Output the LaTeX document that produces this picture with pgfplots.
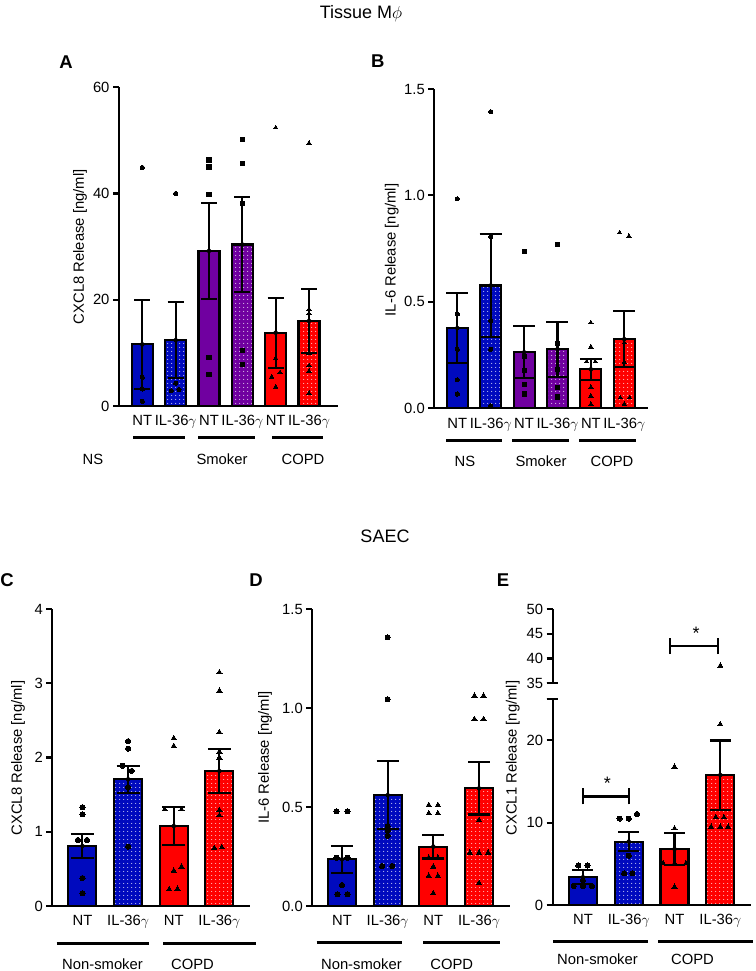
\documentclass[border=0pt]{standalone}
\usepackage{fontspec}
\setmainfont{Liberation Sans}
\usepackage{pgfplots}
\pgfplotsset{compat=1.18}
\usetikzlibrary{patterns.meta}
\definecolor{cblue}{RGB}{0,10,190}
\definecolor{cpurple}{RGB}{112,0,160}
\definecolor{cred}{RGB}{255,0,0}
\newcommand{\lab}{\fontsize{14.8}{17}\selectfont}
\newcommand{\ttl}{\fontsize{18}{21}\selectfont}
\newcommand{\plet}{\fontsize{18.5}{21}\selectfont\bfseries}
\newcommand{\g}{IL-36$\gamma$}
\pgfplotsset{
  panel/.style={
    scale only axis, anchor=south west,
    axis x line*=bottom, axis y line*=left,
    axis line style={line width=2.1pt, black},
    major tick length=6pt, tick align=outside,
    ytick style={line width=2.1pt, black},
    xtick style={draw=none},
    ymin=0, clip=false,
    tick label style={font=\lab, black},
    /pgf/number format/assume math mode=true,
  },
  pbar/.style={ybar, bar shift=0pt, draw=black, line width=2.1pt, fill=#1},
  dbar/.style={pbar=#1, postaction={pattern={Dots[radius=0.6pt, distance=4pt]}, pattern color=white}},
  pts/.style={only marks, black, mark=#1, mark options={fill=black, draw=black, line width=0pt}},
  errb/.style={only marks, mark=none, forget plot,
     error bars/y dir=both, error bars/y explicit,
     error bars/error bar style={line width=2.1pt, black},
     error bars/error mark options={rotate=90, line width=2.1pt, black, mark size=#1}},
}
\begin{document}
\begin{tikzpicture}
\path[use as bounding box] (0pt,0pt) rectangle (755pt,-971pt);

% ---------------- Panel A ----------------
\begin{axis}[panel, at={(119pt,-406pt)}, width=219pt, height=318.7pt,
  xmin=-0.70, xmax=5.87, ymax=60, ytick={0,20,40,60},
  xtick={0,...,5}, xticklabels={NT,\g,NT,\g,NT,\g}, bar width=21pt]
\addplot[pbar=cblue] coordinates {(0,11.6)};
\addplot[dbar=cblue] coordinates {(1,12.4)};
\addplot[pbar=cpurple] coordinates {(2,29.2)};
\addplot[dbar=cpurple] coordinates {(3,30.4)};
\addplot[pbar=cred] coordinates {(4,13.8)};
\addplot[dbar=cred] coordinates {(5,16.0)};
\addplot[pts=*, mark size=2.1pt] coordinates {(0,44.9) (0,5.4) (0,3.2) (0,0.9) (1,40) (1,4.3) (0.87,2.9) (1.1,3.1)};
\addplot[pts=square*, mark size=2.1pt] coordinates {(2,46.3) (2,45.0) (2,39.8) (2,9.2) (2,6.0) (3,50.2) (3,45.6) (3,38.1) (3,10.5) (3,7.8)};
\addplot[pts=triangle*, mark size=2.5pt] coordinates {(4,52.4) (4,9.0) (3.88,5.5) (4.13,6.3) (4,3.6) (5,49.5) (5,18.2) (5,17.4) (5,9.9) (5,7.6) (5,6.6) (5,2.4)};
\addplot[errb=8pt] coordinates {(0,11.6) +- (0,8.4) (1,12.4) +- (0,7.1) (2,29.2) +- (0,9.0) (3,30.4) +- (0,9.0) (4,13.8) +- (0,6.6) (5,16.0) +- (0,6.1)};
\end{axis}

% ---------------- Panel B ----------------
\begin{axis}[panel, at={(434.3pt,-408.3pt)}, width=214pt, height=319.3pt,
  xmin=-0.69, xmax=5.72, ymax=1.5, ytick={0,0.5,1,1.5}, yticklabels={0.0,0.5,1.0,1.5},
  xtick={0,...,5}, xticklabels={NT,\g,NT,\g,NT,\g}, bar width=21pt]
\addplot[pbar=cblue] coordinates {(0,0.377)};
\addplot[dbar=cblue] coordinates {(1,0.577)};
\addplot[pbar=cpurple] coordinates {(2,0.263)};
\addplot[dbar=cpurple] coordinates {(3,0.278)};
\addplot[pbar=cred] coordinates {(4,0.183)};
\addplot[dbar=cred] coordinates {(5,0.325)};
\addplot[pts=*, mark size=2.1pt] coordinates {(0,0.984) (0,0.443) (0,0.277) (0,0.134) (0,0.067) (1,1.393) (1,0.806) (1,0.411) (1,0.277) (1,0.011)};
\addplot[pts=square*, mark size=2.1pt] coordinates {(2,0.735) (2,0.242) (2,0.177) (2,0.11) (2,0.067) (3,0.771) (3,0.305) (3,0.183) (3,0.097) (3,0.053)};
\addplot[pts=triangle*, mark size=2.5pt] coordinates {(4,0.402) (4,0.289) (3.87,0.219) (4.13,0.219) (4,0.099) (4,0.058) (4,0.019) (4.86,0.825) (5.14,0.809) (5,0.308) (5,0.217) (4.88,0.05) (5.16,0.05) (5,0.02)};
\addplot[errb=11pt] coordinates {(0,0.377) +- (0,0.165) (1,0.577) +- (0,0.24) (2,0.263) +- (0,0.122) (3,0.278) +- (0,0.129) (4,0.183) +- (0,0.05) (5,0.325) +- (0,0.133)};
\end{axis}

% ---------------- Panel C ----------------
\begin{axis}[panel, at={(52.3pt,-906pt)}, width=197.7pt, height=297pt,
  xmin=-0.66, xmax=3.67, ymax=4, ytick={0,1,2,3,4},
  xtick={0,...,3}, xticklabels={NT,\g,NT,\g}, bar width=28pt]
\addplot[pbar=cblue] coordinates {(0,0.808)};
\addplot[dbar=cblue] coordinates {(1,1.706)};
\addplot[pbar=cred] coordinates {(2,1.077)};
\addplot[dbar=cred] coordinates {(3,1.818)};
\addplot[pts=*, mark size=2.6pt] coordinates {(0,1.33) (0,1.235) (-0.1,0.89) (0.1,0.89) (0,0.377) (0,0.17) (1,2.22) (1,2.12) (0.88,1.89) (1.08,1.82) (1,1.60) (1,0.80)};
\addplot[pts=triangle*, mark size=3pt] coordinates {(2,2.26) (2,2.155) (1.8,1.30) (2.17,1.30) (2,0.475) (2.17,0.53) (1.9,0.225) (2.08,0.23) (3,3.147) (3,2.90) (3,2.34) (3,2.08) (3,2.0) (3,1.29) (3,1.22) (2.89,0.78) (3.05,0.79)};
\addplot[errb=11.5pt] coordinates {(0,0.808) +- (0,0.16) (1,1.706) +- (0,0.18) (2,1.077) +- (0,0.26) (3,1.818) +- (0,0.30)};
\end{axis}

% ---------------- Panel D ----------------
\begin{axis}[panel, at={(312.3pt,-906pt)}, width=197.3pt, height=297pt,
  xmin=-0.65, xmax=3.67, ymax=1.5, ytick={0,0.5,1,1.5}, yticklabels={0.0,0.5,1.0,1.5},
  xtick={0,...,3}, xticklabels={NT,\g,NT,\g}, bar width=28pt]
\addplot[pbar=cblue] coordinates {(0,0.236)};
\addplot[dbar=cblue] coordinates {(1,0.56)};
\addplot[pbar=cred] coordinates {(2,0.30)};
\addplot[dbar=cred] coordinates {(3,0.594)};
\addplot[pts=*, mark size=2.6pt] coordinates {(-0.12,0.478) (0.12,0.478) (-0.12,0.244) (0.12,0.244) (0,0.106) (-0.1,0.059) (0.12,0.059) (1,1.357) (1,1.044) (1,0.404) (1,0.38) (1,0.354) (0.88,0.202) (1.1,0.202)};
\addplot[pts=triangle*, mark size=3pt] coordinates {(1.9,0.51) (2.1,0.51) (1.9,0.468) (2.1,0.468) (1.9,0.244) (2.1,0.244) (2,0.199) (1.9,0.152) (2.1,0.152) (2,0.064) (2.9,1.062) (3.1,1.062) (2.9,0.944) (3.1,0.944) (3,0.434) (2.8,0.269) (3,0.269) (3.2,0.269) (3,0.115)};
\addplot[errb=11pt] coordinates {(0,0.236) +- (0,0.068) (1,0.56) +- (0,0.172) (2,0.30) +- (0,0.06) (3,0.594) +- (0,0.132)};
\end{axis}

% ---------------- Panel E (lower) ----------------
\begin{axis}[panel, at={(552.7pt,-905pt)}, width=198.3pt, height=205.7pt,
  xmin=-0.66, xmax=3.67, ymax=25, ytick={0,10,20,25}, yticklabels={0,10,20,{}},
  xtick={0,...,3}, xticklabels={NT,\g,NT,\g}, bar width=28pt]
\addplot[pbar=cblue] coordinates {(0,3.37)};
\addplot[dbar=cblue] coordinates {(1,7.7)};
\addplot[pbar=cred] coordinates {(2,6.8)};
\addplot[dbar=cred] coordinates {(3,15.8)};
\addplot[pts=*, mark size=2.6pt] coordinates {(-0.1,4.8) (0.1,4.8) (0,3.0) (-0.2,2.3) (0,2.3) (0.2,2.3) (0.8,10.5) (1,10.5) (1.18,11.05) (1,6.0) (0.9,3.85) (1.08,3.85)};
\addplot[pts=triangle*, mark size=3pt] coordinates {(2,16.8) (2,9.3) (1.75,5.06) (2,5.06) (2.25,5.06) (2,2.2) (3,21.95) (2.9,10.65) (3.08,10.65) (2.8,9.5) (3,9.5) (3.17,9.5)};
\addplot[errb=10.5pt] coordinates {(0,3.37) +- (0,0.87) (1,7.7) +- (0,1.15) (2,6.8) +- (0,1.9) (3,15.8) +- (0,4.2)};
\draw[line width=2.3pt] (axis cs:0,13.2) -- (axis cs:1,13.2);
\draw[line width=2.3pt] ([yshift=-8pt]axis cs:0,13.2) -- ([yshift=8pt]axis cs:0,13.2);
\draw[line width=2.3pt] ([yshift=-8pt]axis cs:1,13.2) -- ([yshift=8pt]axis cs:1,13.2);
\end{axis}

% ---------------- Panel E (upper) ----------------
\begin{axis}[panel, at={(552.7pt,-683.3pt)}, width=198.3pt, height=74.3pt,
  xmin=-0.66, xmax=3.67, ymin=35, ymax=50, ytick={35,40,45,50},
  axis x line=none, xtick=\empty]
\addplot[pts=triangle*, mark size=3pt] coordinates {(3,38.55)};
\draw[line width=2.3pt] (axis cs:1.9,42.5) -- (axis cs:2.95,42.5);
\draw[line width=2.3pt] ([yshift=-8pt]axis cs:1.9,42.5) -- ([yshift=8pt]axis cs:1.9,42.5);
\draw[line width=2.3pt] ([yshift=-8pt]axis cs:2.95,42.5) -- ([yshift=8pt]axis cs:2.95,42.5);
\end{axis}

% asterisks
\node[font=\ttl, anchor=north, inner sep=0pt] at (607.3pt,-777pt) {*};
\node[font=\ttl, anchor=north, inner sep=0pt] at (696pt,-627pt) {*};
% axis break markers
\draw[line width=2.1pt] (546.5pt,-683.3pt) -- (558pt,-683.3pt);
\draw[line width=2.1pt] (546.5pt,-699.3pt) -- (558pt,-699.3pt);

% ---------------- Titles, letters, labels ----------------
\node[font=\ttl] at (361pt,-14pt) {Tissue M$\phi$};
\node[font=\ttl] at (385pt,-536.7pt) {SAEC};
\node[font=\plet] at (66pt,-61.7pt) {A};
\node[font=\plet] at (377.7pt,-60.7pt) {B};
\node[font=\plet] at (7pt,-580pt) {C};
\node[font=\plet] at (256pt,-580pt) {D};
\node[font=\plet] at (503pt,-580pt) {E};

\node[font=\lab, rotate=90] at (80pt,-246.7pt) {CXCL8 Release [ng/ml]};
\node[font=\lab, rotate=90] at (391.7pt,-250pt) {IL-6 Release [ng/ml]};
\node[font=\lab, rotate=90] at (18pt,-758pt) {CXCL8 Release [ng/ml]};
\node[font=\lab, rotate=90] at (265pt,-757.5pt) {IL-6 Release [ng/ml]};
\node[font=\lab, rotate=90] at (512.7pt,-758pt) {CXCL1 Release [ng/ml]};

% group lines and labels
\begin{scope}[line width=3.5pt]
\draw (133pt,-437.5pt) -- (185pt,-437.5pt);
\draw (198pt,-437.5pt) -- (255pt,-437.5pt);
\draw (272pt,-437.5pt) -- (323pt,-437.5pt);
\draw (446pt,-440.5pt) -- (502pt,-440.5pt);
\draw (512pt,-440.5pt) -- (569pt,-440.5pt);
\draw (579pt,-440.5pt) -- (636pt,-440.5pt);
\draw (56.7pt,-943.5pt) -- (149pt,-943.5pt);
\draw (163.3pt,-943.5pt) -- (256pt,-943.5pt);
\draw (316.7pt,-942.3pt) -- (401.7pt,-942.3pt);
\draw (423.3pt,-942.3pt) -- (500pt,-942.3pt);
\draw (553.3pt,-941.7pt) -- (648.3pt,-941.7pt);
\draw (658.3pt,-941.7pt) -- (753.3pt,-941.7pt);
\end{scope}
\node[font=\lab] at (93pt,-459pt) {NS};
\node[font=\lab] at (222pt,-459pt) {Smoker};
\node[font=\lab] at (303pt,-459pt) {COPD};
\node[font=\lab] at (465pt,-461pt) {NS};
\node[font=\lab] at (541pt,-461pt) {Smoker};
\node[font=\lab] at (612pt,-461pt) {COPD};
\node[font=\lab] at (102.5pt,-964pt) {Non-smoker};
\node[font=\lab] at (192.5pt,-964pt) {COPD};
\node[font=\lab] at (361.4pt,-964pt) {Non-smoker};
\node[font=\lab] at (451.7pt,-964pt) {COPD};
\node[font=\lab] at (597.5pt,-959.3pt) {Non-smoker};
\node[font=\lab] at (692.5pt,-959.3pt) {COPD};
\end{tikzpicture}
\end{document}
